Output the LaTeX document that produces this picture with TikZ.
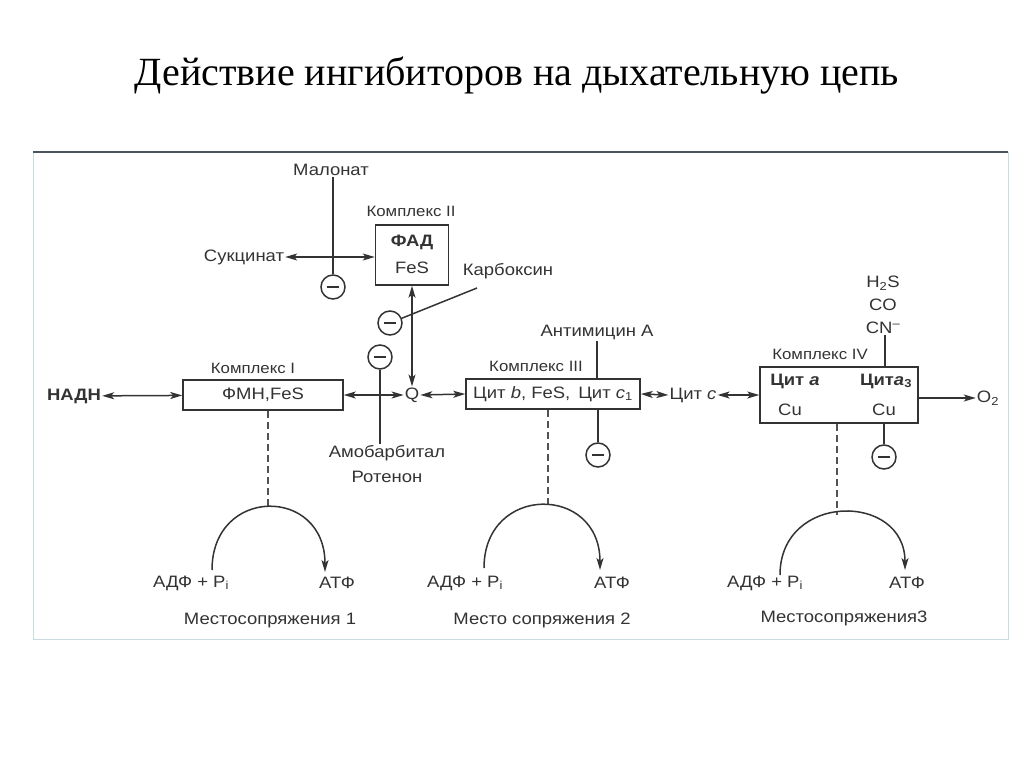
\documentclass[tikz,border=0pt]{standalone}
\usepackage{fontspec}
\setmainfont[FakeStretch=1.12]{Liberation Sans}
\newfontfamily\titlefont{Liberation Serif}
\usetikzlibrary{arrows.meta}
\definecolor{ink}{HTML}{333333}
\definecolor{frametop}{HTML}{4B5560}
\definecolor{frameside}{HTML}{C9DAE2}
\begin{document}
\begin{tikzpicture}[x=1pt,y=-1pt,
  lbl/.style={text=ink, font=\fontsize{16.5}{18}\selectfont, inner sep=1pt},
  small/.style={text=ink, font=\fontsize{15}{17}\selectfont, inner sep=1pt},
  bld/.style={lbl, font=\bfseries\fontsize{16.5}{18}\selectfont},
  box/.style={draw=ink, line width=1.5pt, text=ink, font=\fontsize{16.5}{18}\selectfont, inner sep=0pt},
  conn/.style={draw=ink, line width=1.5pt},
  dbl/.style={conn, {Stealth[length=12pt,width=7pt,inset=3pt]}-{Stealth[length=12pt,width=7pt,inset=3pt]}},
  one/.style={conn, -{Stealth[length=12pt,width=7pt,inset=3pt]}},
  inh/.style={circle, draw=ink, line width=1.5pt, minimum size=24pt, inner sep=0pt,
    path picture={\draw[ink,line width=1.9pt] ([xshift=-6pt]path picture bounding box.center) -- ([xshift=6pt]path picture bounding box.center);}},
  dsh/.style={draw=ink!85, line width=1.3pt, dash pattern=on 7pt off 4pt}
]
\useasboundingbox (0,0) rectangle (1024,767);
\fill[white] (0,0) rectangle (1024,767);
% frame
\draw[frameside, line width=1pt] (33,152) -- (33,639) -- (1008,639) -- (1008,152);
\draw[frametop, line width=2pt] (33,152) -- (1008,152);
% title
\node[font=\titlefont\fontsize{40}{44}\selectfont, text=black] (title) at (517,76) {Действие ингибиторов на дыхательную цепь};

% complex I
\node[box, minimum width=160pt, minimum height=30pt] (c1) at (263,395) {ФМН,FeS};
\node[small] (c1lab) at (253,368) {Комплекс I};
\node[bld] (nadh) at (74,396) {НАДН};
\draw[dbl] (nadh) -- (c1);

% Q
\node[lbl] (q) at (412,395) {Q};
\draw[dbl] (c1.east) -- (q.west);

% complex II
\node[box, minimum width=73pt, minimum height=60pt] (c2) at (412,255) {};
\node[bld] (c2a) at (412,242) {ФАД};
\node[lbl] (c2b) at (412,268) {FeS};
\node[small] (c2lab) at (411,211) {Комплекс II};
\draw[dbl] (c2.south) -- (q.north);
\node[lbl] (succ) at (244,257) {Сукцинат};
\draw[dbl] (succ.east) -- (succ.east -| c2.west);
\node[lbl] (malon) at (331,170) {Малонат};
\node[inh] (m1) at (333,287) {};
\draw[conn] (malon.south -| m1) -- (m1.north);

% carboxin
\node[lbl] (carbox) at (508,271) {Карбоксин};
\node[inh] (m2) at (390,323) {};
\coordinate (cbx) at (477,288);
\draw[conn] (cbx) -- (m2);

% amobarbital
\node[inh] (m3) at (380,357) {};
\node[lbl] (amob) at (387,453) {Амобарбитал};
\node[lbl] (roten) at (387,477) {Ротенон};
\draw[conn] (m3.south) -- (amob.north -| m3);

% complex III
\node[box, minimum width=174pt, minimum height=30pt] (c3) at (553,394) {Цит \textit{b}, FeS,\, Цит \textit{c}\textsubscript{1}};
\node[small] (c3lab) at (536,366) {Комплекс III};
\draw[dbl] (q.east) -- (c3.west);
\node[lbl] (antim) at (597,332) {Антимицин А};
\draw[conn] (antim.south) -- (antim.south |- c3.north);
\node[inh] (m4) at (598,455) {};
\draw[conn] (c3.south -| m4) -- (m4.north);

% cyt c
\node[lbl] (cytc) at (693,395) {Цит \textit{c}};
\draw[dbl] (c3.east) -- (cytc.west);

% complex IV
\node[box, minimum width=158pt, minimum height=56pt] (c4) at (839,395) {};
\node[bld] (c4a) at (795,381) {Цит \textit{a}};
\node[bld] (c4b) at (886,381) {Цит\textit{a}\textsubscript{3}};
\node[lbl] (cu1) at (790,410) {Cu};
\node[lbl] (cu2) at (884,410) {Cu};
\node[small] (c4lab) at (820,354) {Комплекс IV};
\draw[dbl] (cytc.east) -- (c4.west |- cytc.east);
\node[lbl] (h2s) at (883,283) {H\textsubscript{2}S};
\node[lbl] (co) at (883,305) {CO};
\node[lbl] (cn) at (883,328) {CN\textsuperscript{–}};
\draw[conn] (cn.south -| 885,0) -- (c4.north -| 885,0);
\node[lbl] (o2) at (988,398) {O\textsubscript{2}};
\draw[one] (o2.west -| c4.east) -- (o2.west);
\node[inh] (m5) at (884,457) {};
\draw[conn] (c4.south -| m5) -- (m5.north);

% coupling site 1
\coordinate (t1) at (268,507);
\coordinate (l1) at (212,570);
\coordinate (r1) at (325,572);
\draw[dsh] (c1.south -| t1) -- (t1);
\draw[one] (l1) .. controls (212,486) and (325,486) .. (r1);
\node[lbl] (adp1) at (191,583) {АДФ + P\textsubscript{i}};
\node[lbl] (atp1) at (337,583) {АТФ};
\node[lbl] (site1) at (270,621) {Местосопряжения 1};

% coupling site 2
\coordinate (t2) at (548,505);
\coordinate (l2) at (484,568);
\coordinate (r2) at (600,570);
\draw[dsh] (c3.south -| t2) -- (t2);
\draw[one] (l2) .. controls (484,484) and (600,484) .. (r2);
\node[lbl] (adp2) at (465,583) {АДФ + P\textsubscript{i}};
\node[lbl] (atp2) at (612,583) {АТФ};
\node[lbl] (site2) at (542,620) {Место сопряжения 2};

% coupling site 3
\coordinate (t3) at (837,515);
\coordinate (l3) at (780,575);
\coordinate (r3) at (905,570);
\draw[dsh] (c4.south -| t3) -- (t3);
\draw[one] (l3) .. controls (780,492) and (905,492) .. (r3);
\node[lbl] (adp3) at (765,583) {АДФ + P\textsubscript{i}};
\node[lbl] (atp3) at (907,583) {АТФ};
\node[lbl] (site3) at (844,618) {Местосопряжения3};
\end{tikzpicture}
\end{document}
